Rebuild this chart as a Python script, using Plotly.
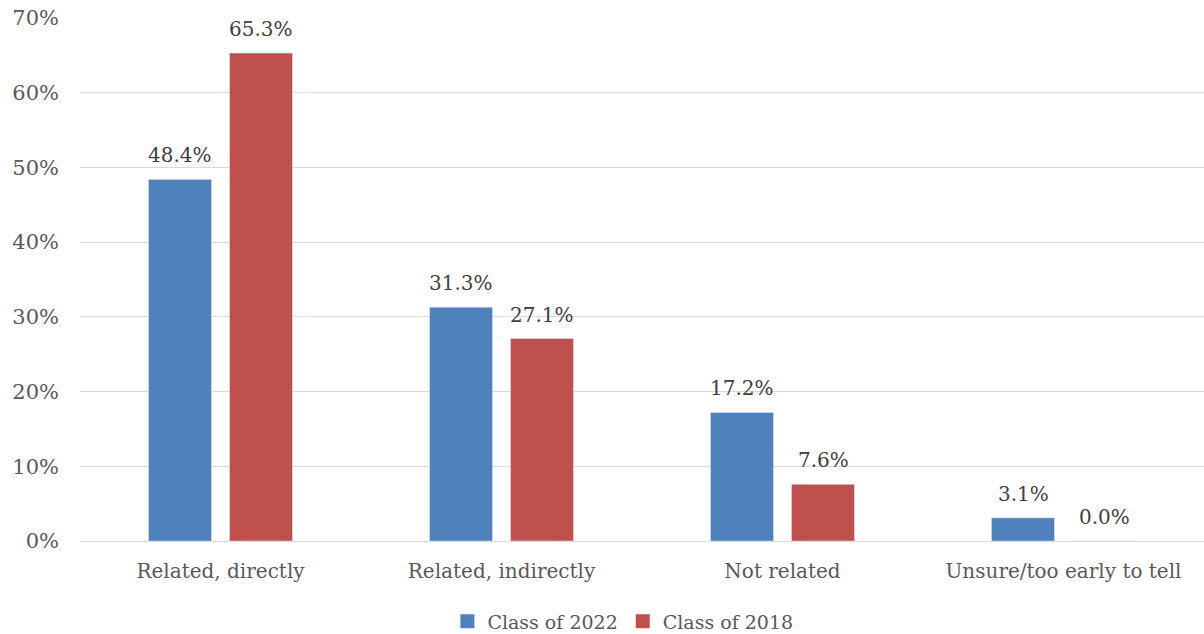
import plotly.graph_objects as go

categories = ["Related, directly", "Related, indirectly", "Not related", "Unsure/too early to tell"]
class_2022 = [48.4, 31.3, 17.2, 3.1]
class_2018 = [65.3, 27.1, 7.6, 0.0]
series_names = ["Class of 2022", "Class of 2018"]
series_colors = ["#4F81BD", "#C0504D"]
tick_vals = [0, 10, 20, 30, 40, 50, 60, 70]
tick_text = ["0%", "10%", "20%", "30%", "40%", "50%", "60%", "70%"]

FONT = "DejaVu Serif"
SIZE = 20
fig = go.Figure()
for name, vals, color in zip(series_names, [class_2022, class_2018], series_colors):
    fig.add_trace(go.Bar(x=categories, y=vals, name=name, marker_color=color,
                         showlegend=False))
    # legend-only entry with a bigger square swatch
    fig.add_trace(go.Scatter(x=[None], y=[None], mode="markers", name=name,
                             marker=dict(symbol="square", size=14, color=color)))

# value labels
for vals, shift in [(class_2022, -40.5), (class_2018, 40.5)]:
    for c, v in zip(categories, vals):
        fig.add_annotation(x=c, y=v, text=f"{v:.1f}%", showarrow=False,
                           xshift=shift, yshift=10, yanchor="bottom",
                           font=dict(family=FONT, size=SIZE, color="#404040"))

fig.update_layout(
    width=1204, height=634,
    margin=dict(l=80, r=0, t=18, b=93, autoexpand=False),
    paper_bgcolor="white", plot_bgcolor="white",
    barmode="group", bargap=0.4235, bargroupgap=0.222,
    font=dict(family=FONT, size=SIZE, color="#595959"),
    showlegend=True,
    legend=dict(orientation="h", x=0.483, xanchor="center",
                yref="container", y=0.02, yanchor="middle",
                font=dict(family=FONT, size=19, color="#595959"),
                itemwidth=30, tracegroupgap=0),
)
fig.update_yaxes(range=[0, 70], tickvals=tick_vals, ticktext=tick_text,
                 showgrid=True, gridcolor="#D9D9D9", gridwidth=1.3, zeroline=False,
                 ticks="", ticklabelstandoff=20, showline=False, automargin=False,
                 tickfont=dict(size=21))
fig.update_xaxes(showline=True, linecolor="#D9D9D9", linewidth=1.3, ticks="",
                 ticklabelstandoff=12, automargin=False)
fig.write_html("out.html", config={"displayModeBar": False},
               post_script="document.body.style.margin='0';document.body.style.overflow='hidden';")
